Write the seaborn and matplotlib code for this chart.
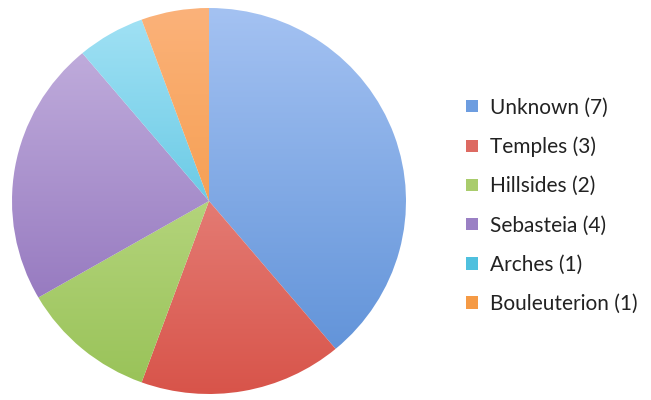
import numpy as np
import matplotlib
matplotlib.use("Agg")
import matplotlib.pyplot as plt
import matplotlib.patches as mpatches
from matplotlib.colors import LinearSegmentedColormap
import seaborn as sns

labels = ["Unknown", "Temples", "Hillsides", "Sebasteia", "Arches", "Bouleuterion"]
counts = [7, 3, 2, 4, 1, 1]
top_colors = ["#a4c2f2", "#f0a29d", "#cfe6a0", "#c6b4e0", "#a3e2f5", "#fbb27a"]
bottom_colors = ["#5a8ed6", "#d8544a", "#98c257", "#8868b6", "#35b4d6", "#f28e2e"]
mid_colors = ["#6d9de0", "#dd6a62", "#a9cc6c", "#9a80c4", "#4fc0de", "#f59a45"]

sns.set_theme(style="white")
plt.rcParams['font.family'] = ['Lato', 'DejaVu Sans']

W, H = 651, 400
fig = plt.figure(figsize=(W / 100, H / 100), dpi=100)
fig.patch.set_facecolor("white")

cx, cy, rx, ry = 209, 201, 197, 193
ax = fig.add_axes([(cx - rx) / W, (H - cy - ry) / H, 2 * rx / W, 2 * ry / H])
ax.axis("off")

wedges, _ = ax.pie(counts, startangle=90, counterclock=False, radius=1,
                   colors=mid_colors, wedgeprops=dict(linewidth=0))
ax.set_xlim(-1, 1)
ax.set_ylim(-1, 1)
ax.set_aspect("auto")

grad = np.linspace(0, 1, 256).reshape(-1, 1)
for w, tc, bc in zip(wedges, top_colors, bottom_colors):
    cmap = LinearSegmentedColormap.from_list("g", [bc, tc])
    im = ax.imshow(grad, cmap=cmap, extent=[-1, 1, -1, 1], origin="lower",
                   aspect="auto", zorder=2)
    im.set_clip_path(w)
    w.set_facecolor("none")

handles = [mpatches.Patch(facecolor=c, edgecolor="none") for c in mid_colors]
leg_labels = [f"{l} ({c})" for l, c in zip(labels, counts)]
leg = fig.legend(handles, leg_labels, loc="upper left",
                 bbox_to_anchor=(456 / W, 1 - 87 / H), frameon=False,
                 fontsize=15, handlelength=0.55, handleheight=0.55,
                 handletextpad=0.6, labelspacing=0.92, borderpad=0)
for t in leg.get_texts():
    t.set_color("#222222")

fig.savefig("out.png", dpi=100, facecolor="white")
